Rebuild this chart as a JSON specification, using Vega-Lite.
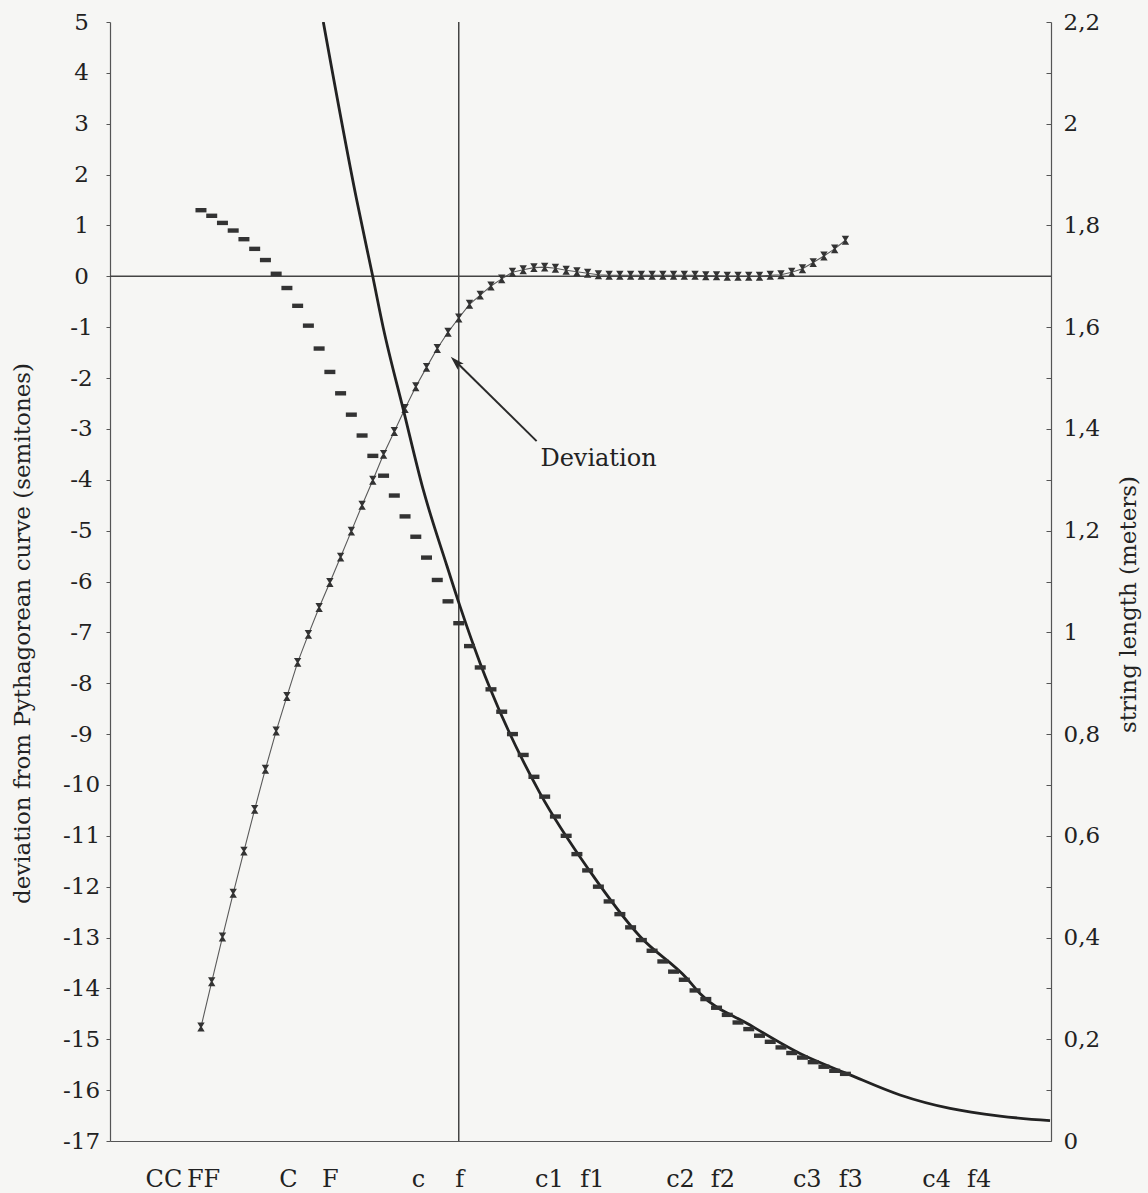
{
  "$schema": "https://vega.github.io/schema/vega-lite/v6.json",
  "width": 941,
  "height": 1119,
  "autosize": {"type": "none"},
  "padding": {"left": 110, "top": 22, "right": 97, "bottom": 52},
  "background": "#f6f6f4",
  "config": {
    "view": {"stroke": null},
    "font": "DejaVu Serif",
    "axis": {
      "labelFont": "DejaVu Serif",
      "titleFont": "DejaVu Serif",
      "labelColor": "#222222",
      "titleColor": "#222222",
      "domainColor": "#555555",
      "tickColor": "#555555",
      "grid": false,
      "labelFontSize": 23,
      "titleFontSize": 23,
      "titleFontWeight": "normal",
      "labelOverlap": false,
      "labelFlush": false
    }
  },
  "datasets": {
    "strings": [
      {"idx": 0, "dev": -14.76, "len": 1.830},
      {"idx": 1, "dev": -13.87, "len": 1.819},
      {"idx": 2, "dev": -12.99, "len": 1.805},
      {"idx": 3, "dev": -12.13, "len": 1.790},
      {"idx": 4, "dev": -11.30, "len": 1.773},
      {"idx": 5, "dev": -10.48, "len": 1.754},
      {"idx": 6, "dev": -9.69, "len": 1.732},
      {"idx": 7, "dev": -8.94, "len": 1.705},
      {"idx": 8, "dev": -8.26, "len": 1.677},
      {"idx": 9, "dev": -7.59, "len": 1.642},
      {"idx": 10, "dev": -7.04, "len": 1.603},
      {"idx": 11, "dev": -6.51, "len": 1.558},
      {"idx": 12, "dev": -6.02, "len": 1.512},
      {"idx": 13, "dev": -5.52, "len": 1.470},
      {"idx": 14, "dev": -5.01, "len": 1.428},
      {"idx": 15, "dev": -4.50, "len": 1.387},
      {"idx": 16, "dev": -4.01, "len": 1.347},
      {"idx": 17, "dev": -3.50, "len": 1.308},
      {"idx": 18, "dev": -3.05, "len": 1.269},
      {"idx": 19, "dev": -2.60, "len": 1.228},
      {"idx": 20, "dev": -2.17, "len": 1.188},
      {"idx": 21, "dev": -1.79, "len": 1.147},
      {"idx": 22, "dev": -1.42, "len": 1.103},
      {"idx": 23, "dev": -1.10, "len": 1.061},
      {"idx": 24, "dev": -0.82, "len": 1.018},
      {"idx": 25, "dev": -0.55, "len": 0.973},
      {"idx": 26, "dev": -0.37, "len": 0.931},
      {"idx": 27, "dev": -0.19, "len": 0.888},
      {"idx": 28, "dev": -0.05, "len": 0.844},
      {"idx": 29, "dev": 0.08, "len": 0.800},
      {"idx": 30, "dev": 0.13, "len": 0.759},
      {"idx": 31, "dev": 0.17, "len": 0.716},
      {"idx": 32, "dev": 0.18, "len": 0.677},
      {"idx": 33, "dev": 0.16, "len": 0.638},
      {"idx": 34, "dev": 0.12, "len": 0.600},
      {"idx": 35, "dev": 0.09, "len": 0.564},
      {"idx": 36, "dev": 0.06, "len": 0.532},
      {"idx": 37, "dev": 0.03, "len": 0.500},
      {"idx": 38, "dev": 0.02, "len": 0.471},
      {"idx": 39, "dev": 0.02, "len": 0.446},
      {"idx": 40, "dev": 0.02, "len": 0.420},
      {"idx": 41, "dev": 0.02, "len": 0.395},
      {"idx": 42, "dev": 0.02, "len": 0.374},
      {"idx": 43, "dev": 0.02, "len": 0.353},
      {"idx": 44, "dev": 0.02, "len": 0.333},
      {"idx": 45, "dev": 0.02, "len": 0.317},
      {"idx": 46, "dev": 0.02, "len": 0.296},
      {"idx": 47, "dev": 0.01, "len": 0.279},
      {"idx": 48, "dev": 0.01, "len": 0.262},
      {"idx": 49, "dev": 0.00, "len": 0.248},
      {"idx": 50, "dev": 0.00, "len": 0.233},
      {"idx": 51, "dev": 0.00, "len": 0.220},
      {"idx": 52, "dev": 0.00, "len": 0.207},
      {"idx": 53, "dev": 0.02, "len": 0.195},
      {"idx": 54, "dev": 0.03, "len": 0.184},
      {"idx": 55, "dev": 0.08, "len": 0.173},
      {"idx": 56, "dev": 0.15, "len": 0.164},
      {"idx": 57, "dev": 0.27, "len": 0.155},
      {"idx": 58, "dev": 0.40, "len": 0.146},
      {"idx": 59, "dev": 0.54, "len": 0.138},
      {"idx": 60, "dev": 0.71, "len": 0.132}
    ],
    "pyth": [
      {"idx": 11.39, "len": 2.2},
      {"idx": 14.5, "len": 1.85},
      {"idx": 15.99, "len": 1.7},
      {"idx": 16.97, "len": 1.599},
      {"idx": 18.84, "len": 1.438},
      {"idx": 20.7, "len": 1.28},
      {"idx": 22.88, "len": 1.132},
      {"idx": 24.12, "len": 1.051},
      {"idx": 25.98, "len": 0.94},
      {"idx": 26.91, "len": 0.89},
      {"idx": 31.56, "len": 0.684},
      {"idx": 36.22, "len": 0.53},
      {"idx": 40.88, "len": 0.402},
      {"idx": 45.22, "len": 0.32},
      {"idx": 46.46, "len": 0.29},
      {"idx": 51.12, "len": 0.228},
      {"idx": 55.77, "len": 0.172},
      {"idx": 60.43, "len": 0.13},
      {"idx": 65.08, "len": 0.0905},
      {"idx": 69.74, "len": 0.064},
      {"idx": 74.39, "len": 0.049},
      {"idx": 79.05, "len": 0.04}
    ]
  },
  "layer": [
    {
      "layer": [
        {
          "data": {"name": "strings"},
          "mark": {"type": "line", "color": "#5a5a5a", "strokeWidth": 1.1},
          "encoding": {
            "x": {
              "field": "idx", "type": "quantitative",
              "scale": {"domain": [-8.47, 79.14], "nice": false, "zero": false},
              "axis": {
                "orient": "bottom", "title": null,
                "values": [-3.5, 0.2, 8.1, 12, 20.2, 24.05, 32.4, 36.4, 44.6, 48.55, 56.4, 60.45, 68.45, 72.4],
                "labelExpr": "datum.value < -2 ? 'CC' : datum.value < 4 ? 'FF' : datum.value < 10 ? 'C' : datum.value < 16 ? 'F' : datum.value < 22 ? 'c' : datum.value < 28 ? 'f' : datum.value < 34 ? 'c1' : datum.value < 40 ? 'f1' : datum.value < 46 ? 'c2' : datum.value < 52 ? 'f2' : datum.value < 58 ? 'c3' : datum.value < 64 ? 'f3' : datum.value < 70 ? 'c4' : 'f4'",
                "ticks": false, "labelPadding": 26, "labelFontSize": 24, "domainWidth": 1.2
              }
            },
            "y": {
              "field": "dev", "type": "quantitative",
              "scale": {"domain": [-17, 5], "nice": false, "zero": false},
              "axis": {
                "orient": "left",
                "title": "deviation from Pythagorean curve (semitones)",
                "values": [-17, -16, -15, -14, -13, -12, -11, -10, -9, -8, -7, -6, -5, -4, -3, -2, -1, 0, 1, 2, 3, 4, 5],
                "labelExpr": "datum.value < 0 ? '-' + abs(datum.value) : '' + datum.value",
                "labelAlign": "center",
                "tickSize": 4, "labelPadding": 25, "domainWidth": 1.2,
                "titleAngle": -90, "titleX": -88, "titleY": 611, "titleAlign": "center", "titleBaseline": "middle"
              }
            }
          }
        },
        {
          "data": {"values": [{}]},
          "mark": {"type": "rule", "color": "#444444", "strokeWidth": 1.5},
          "encoding": {
            "y": {"datum": 0, "type": "quantitative"}
          }
        },
        {
          "data": {"values": [{}]},
          "mark": {"type": "rule", "color": "#444444", "strokeWidth": 1.5},
          "encoding": {
            "x": {"datum": 24, "type": "quantitative"}
          }
        },
        {
          "data": {"name": "strings"},
          "mark": {"type": "point", "shape": "M-1,-1.2H1L0.25,0L1,1.2H-1L-0.25,0Z", "filled": true, "color": "#333333", "size": 55, "opacity": 1},
          "encoding": {
            "x": {"field": "idx", "type": "quantitative"},
            "y": {"field": "dev", "type": "quantitative"}
          }
        },
        {
          "data": {"values": [{}]},
          "mark": {"type": "rule", "color": "#2a2a2a", "strokeWidth": 2},
          "encoding": {
            "x": {"datum": 31.25, "type": "quantitative"},
            "y": {"datum": -3.24, "type": "quantitative"},
            "x2": {"datum": 23.7},
            "y2": {"datum": -1.67}
          }
        },
        {
          "data": {"values": [{}]},
          "mark": {"type": "point", "shape": "M0,-1L0.6,1L0,0.55L-0.6,1Z", "filled": true, "color": "#2a2a2a", "size": 200, "angle": 315, "opacity": 1},
          "encoding": {
            "x": {"datum": 23.72, "type": "quantitative"},
            "y": {"datum": -1.68, "type": "quantitative"}
          }
        },
        {
          "data": {"values": [{}]},
          "mark": {"type": "text", "text": "Deviation", "align": "left", "baseline": "alphabetic", "fontSize": 24, "font": "DejaVu Serif", "color": "#222222"},
          "encoding": {
            "x": {"datum": 31.6, "type": "quantitative"},
            "y": {"datum": -3.73, "type": "quantitative"}
          }
        }
      ]
    },
    {
      "layer": [
        {
          "data": {"name": "pyth"},
          "mark": {"type": "line", "color": "#222222", "strokeWidth": 2.8, "interpolate": "monotone", "clip": true},
          "encoding": {
            "x": {"field": "idx", "type": "quantitative"},
            "y": {
              "field": "len", "type": "quantitative",
              "scale": {"domain": [0, 2.2], "nice": false, "zero": true},
              "axis": {
                "orient": "right",
                "title": "string length (meters)",
                "values": [0, 0.1, 0.2, 0.3, 0.4, 0.5, 0.6, 0.7, 0.8, 0.9, 1, 1.1, 1.2, 1.3, 1.4, 1.5, 1.6, 1.7, 1.8, 1.9, 2, 2.1, 2.2],
                "labelExpr": "round(datum.value*10) % 2 == 0 ? replace('' + round(datum.value*10)/10, '.', ',') : ''",
                "tickSize": -5, "labelPadding": 17, "domainWidth": 1.2,
                "titleAngle": -90, "titleX": 77, "titleY": 582, "titleAlign": "center", "titleBaseline": "middle"
              }
            }
          }
        },
        {
          "data": {"name": "strings"},
          "mark": {"type": "point", "shape": "M-1,-0.4H1V0.4H-1Z", "filled": true, "color": "#333333", "size": 121, "opacity": 1},
          "encoding": {
            "x": {"field": "idx", "type": "quantitative"},
            "y": {"field": "len", "type": "quantitative"}
          }
        }
      ]
    }
  ],
  "resolve": {"scale": {"y": "independent"}}
}
